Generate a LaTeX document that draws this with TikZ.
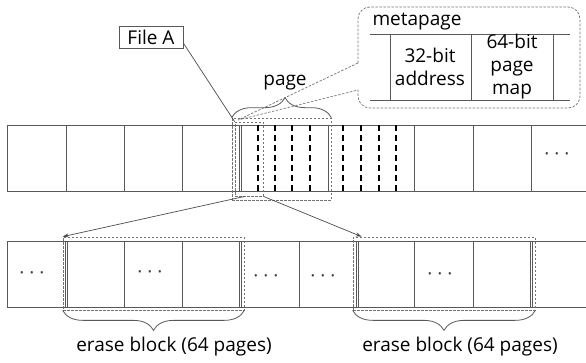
\documentclass[tikz,border=0pt]{standalone}
\usepackage{fontspec}
\setmainfont{Open Sans}
\usetikzlibrary{decorations.pathreplacing,arrows.meta,calc}

\begin{document}
\begin{tikzpicture}[x=1pt,y=-1pt,
  cell/.style={draw=black!65, line width=0.8pt},
  pagediv/.style={draw=black, line width=1.3pt, dash pattern=on 6pt off 4pt},
  frame/.style={draw=black!55, line width=0.7pt, dash pattern=on 2.5pt off 1.5pt},
  lbl/.style={font=\fontsize{19}{23}\selectfont, inner sep=0pt},
  dots/.style={font=\fontsize{19}{23}\selectfont, text=black!75, inner sep=0pt},
  bracestyle/.style={draw=black!65, line width=0.8pt, decorate,
    decoration={brace, amplitude=20pt, aspect=#1}},
  link/.style={draw=black!70, line width=0.7pt},
  arr/.style={link, -{Stealth[length=6pt,width=4pt]}},
]
\useasboundingbox (0,0) rectangle (586,362);

% ---- upper row of blocks ----
\draw[cell] (7,125) -- (586,125) (7,191) -- (586,191);
\foreach \x in {7,66,124,182,328,414,473,531}
  \draw[cell] (\x,125) -- (\x,191);
\foreach \x in {239,241.2}
  \draw[cell, line width=0.6pt] (\x,125) -- (\x,191);
\foreach \x in {258,275,292,310,343,361,379,396}
  \draw[pagediv] (\x,125) -- (\x,191);
\node[dots] (dt) at (557,157) {· · ·};

% ---- lower row of blocks ----
\draw[cell] (7,241) -- (586,241) (7,307) -- (586,307);
\foreach \x in {7,124,182,299,414,473}
  \draw[cell] (\x,241) -- (\x,307);
\foreach \x in {66,240,357,531}{
  \draw[cell, line width=0.6pt] (\x-1.1,241) -- (\x-1.1,307);
  \draw[cell, line width=0.6pt] (\x+1.1,241) -- (\x+1.1,307);
}
\node[dots] (d1) at (32,276) {· · ·};
\node[dots] (d2) at (150,275) {· · ·};
\node[dots] (d3) at (266,279) {· · ·};
\node[dots] (d4) at (323,279) {· · ·};
\node[dots] (d5) at (440,277) {· · ·};

% ---- dashed outlines ----
\node[frame, minimum width=28pt, minimum height=74pt, inner sep=0pt] (pg) at (249,159) {};
\node[frame, minimum width=99pt, minimum height=82pt, inner sep=0pt] (pgs) at (281.5,159) {};
\node[frame, minimum width=181pt, minimum height=73pt, inner sep=0pt] (eb1) at (153.5,273.5) {};
\node[frame, minimum width=182pt, minimum height=73pt, inner sep=0pt] (eb2) at (444,273.5) {};

% ---- arrows from the page down to the erase blocks ----
\draw[arr] ([xshift=-4pt]pg.south) -- (eb1.north west);
\draw[arr] (pg.south east) -- ([xshift=9pt]eb2.north west);

% ---- file label ----
\node[lbl, draw=black!65, line width=0.7pt, minimum width=64pt, minimum height=22pt] (fa) at (151,37) {File A};
\draw[link] ([yshift=-6pt]fa.east) -- (pg.north west);

% ---- page brace ----
\draw[bracestyle=0.535] (pgs.north west) -- (pgs.north east);
\node[lbl] (pl) at (285,83) {page};

% ---- metapage callout ----
\coordinate (tip) at (238,120);
\draw[frame] (358,63) [rounded corners=12pt] -- (358,7) -- (580,7) -- (580,108) -- (358,108) -- (358,90);
\draw[frame] (358,63) -- (tip) -- (358,90);

\node[lbl] (mp) at (417,22) {metapage};
\draw[cell] (370,34) -- (570,34) (370,100) -- (570,100);
\foreach \x in {390,471,553}
  \draw[cell] (\x,34) -- (\x,100);
\node[lbl, align=center] (a32) at (430,67) {32-bit\\address};
\node[lbl, align=center] (p64) at (512,67) {64-bit\\page\\map};

% ---- erase block braces ----
\draw[bracestyle=0.5] (eb1.south east) -- (eb1.south west);
\draw[bracestyle=0.5] (eb2.south east) -- (eb2.south west);
\node[lbl] (e1) at (174,347) {erase block (64 pages)};
\node[lbl] (e2) at (460,347) {erase block (64 pages)};
\end{tikzpicture}
\end{document}
